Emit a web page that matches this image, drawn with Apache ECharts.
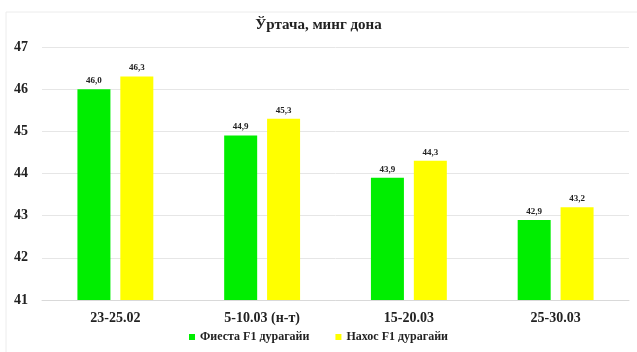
<!DOCTYPE html>
<html><head><meta charset="utf-8">
<script src="https://cdn.jsdelivr.net/npm/echarts@6/dist/echarts.min.js"></script>
<style>html,body{margin:0;padding:0;background:#fff}#c{width:637px;height:352px}</style>
</head><body><div id="c"></div>
<script>
const categories = ['23-25.02', '5-10.03 (н-т)', '15-20.03', '25-30.03'];
const fiesta = [46.0, 44.9, 43.9, 42.9];
const naxos = [46.3, 45.3, 44.3, 43.2];
const seriesNames = ['Фиеста F1 дурагайи', 'Нахос F1 дурагайи'];
const title = 'Ўртача, минг дона';
const font = '"Liberation Serif", "DejaVu Serif", serif';
const chart = echarts.init(document.getElementById('c'));
const lbl = {show: true, position: 'top', distance: 4, fontFamily: font, fontWeight: 'bold', fontSize: 9, color: '#222',
  formatter: p => p.value.toFixed(1).replace('.', ',')};
chart.setOption({
  animation: false,
  title: {text: title, left: 'center', top: 13, textStyle: {fontFamily: font, fontWeight: 'bold', fontSize: 15, color: '#222'}},
  grid: {left: 42, right: 8, top: 47, bottom: 52},
  legend: {bottom: 4, left: 'center', itemWidth: 6, itemHeight: 6, itemGap: 26, icon: 'rect',
    textStyle: {fontFamily: font, fontWeight: 'bold', fontSize: 12, color: '#222'}},
  xAxis: {type: 'category', data: categories, axisTick: {show: false},
    axisLine: {lineStyle: {color: '#d9d9d9'}},
    axisLabel: {fontFamily: font, fontWeight: 'bold', fontSize: 14, color: '#222', margin: 11}},
  yAxis: {type: 'value', min: 41, max: 47, interval: 1,
    axisLabel: {fontFamily: font, fontWeight: 'bold', fontSize: 14, color: '#222', margin: 14},
    splitLine: {lineStyle: {color: '#e6e6e6'}}},
  series: [
    {name: seriesNames[0], type: 'bar', data: fiesta, barWidth: 33, barGap: '30%', itemStyle: {color: '#00ee00'}, label: lbl},
    {name: seriesNames[1], type: 'bar', data: naxos, barWidth: 33, itemStyle: {color: '#ffff00'}, label: lbl}
  ],
  graphic: [{type: 'rect', shape: {x: 6, y: 12, width: 640, height: 345}, style: {fill: 'none', stroke: '#ececec', lineWidth: 1}, silent: true}]
});
</script></body></html>
